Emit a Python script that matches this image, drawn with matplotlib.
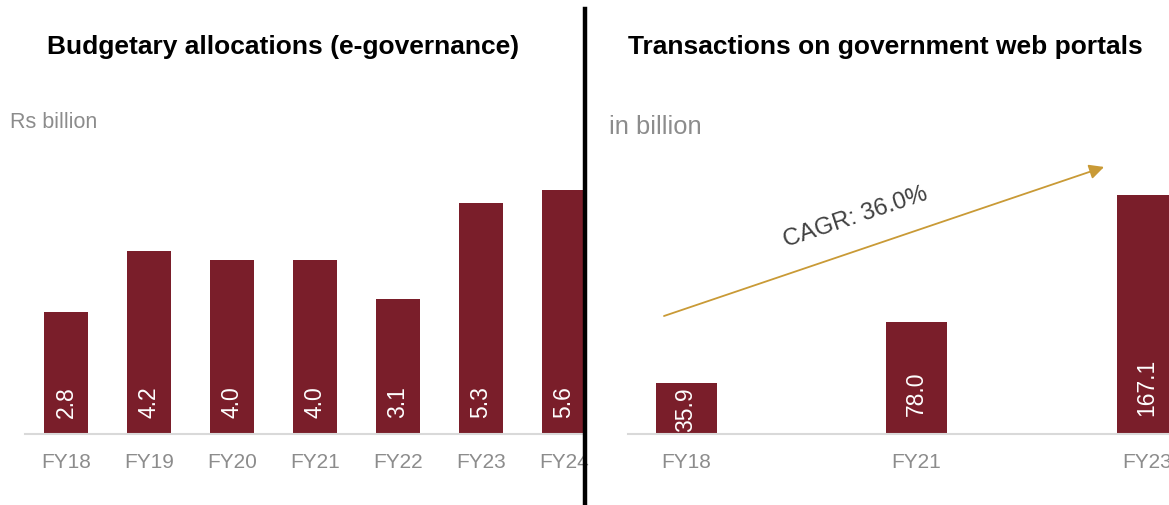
import matplotlib
matplotlib.use("Agg")
import matplotlib.pyplot as plt
from matplotlib.lines import Line2D

# data
budget_years = ["FY18", "FY19", "FY20", "FY21", "FY22", "FY23", "FY24"]
budget_values = [2.8, 4.2, 4.0, 4.0, 3.1, 5.3, 5.6]

txn_years = ["FY18", "FY21", "FY23"]
txn_values = [35.9, 78.0, 167.1]

cagr_label = "CAGR: 36.0%"

# style
BAR = "#7A1E2A"
GREY = "#8C8C8C"
AXLINE = "#D9D9D9"
GOLD = "#C99A36"
plt.rcParams["font.family"] = ["Liberation Sans", "DejaVu Sans"]

W, H = 1169, 506
fig = plt.figure(figsize=(W / 100, H / 100), dpi=100, facecolor="white")


def px_axes(x0, x1, ybase, ytop):
    return fig.add_axes([x0 / W, (H - ybase) / H, (x1 - x0) / W, (ybase - ytop) / H])


def style(ax, labels):
    for s in ["top", "right", "left"]:
        ax.spines[s].set_visible(False)
    ax.spines["bottom"].set_color(AXLINE)
    ax.spines["bottom"].set_linewidth(1.5)
    ax.set_yticks([])
    ax.set_xticks(range(len(labels)))
    ax.set_xticklabels(labels, color=GREY, fontsize=15)
    ax.tick_params(axis="x", length=0, pad=13)


def value_labels(ax, vals, ymax, offset):
    for i, v in enumerate(vals):
        if v / ymax < 0.25:
            ax.text(i, v / 2, "%.1f" % v, rotation=90, ha="center", va="center",
                    color="white", fontsize=16.5, clip_on=True)
        else:
            ax.text(i, offset, "%.1f" % v, rotation=90, ha="center", va="bottom",
                    color="white", fontsize=16.5, clip_on=True)


# left panel
ax1 = px_axes(25, 583, 435, 150)
ax1.bar(range(len(budget_values)), budget_values, width=0.52, color=BAR)
ax1.set_xlim(-0.494, 6.23)
ax1.set_ylim(0, 285 / 43.6)
style(ax1, budget_years)
value_labels(ax1, budget_values, 285 / 43.6, 17 / 43.6)

# right panel
ax2 = px_axes(628, 1169, 435, 150)
ax2.bar(range(len(txn_values)), txn_values, width=0.265, color=BAR)
ax2.set_xlim(-0.252, 2.095)
ax2.set_ylim(0, 285 / 1.43)
style(ax2, txn_years)
value_labels(ax2, txn_values, 285 / 1.43, 19 / 1.43)

ax2.annotate("", xy=(0.88, 0.937), xytext=(0.0665, 0.414),
             xycoords="axes fraction", textcoords="axes fraction",
             arrowprops=dict(arrowstyle="-|>", color=GOLD, lw=1.3,
                             mutation_scale=22, shrinkA=0, shrinkB=0),
             annotation_clip=False)
ax2.text(0.42, 0.765, cagr_label, transform=ax2.transAxes, rotation=18.5,
         rotation_mode="anchor", ha="center", va="center",
         color="#404040", fontsize=17.3)

# titles and units
fig.text(283 / W, 1 - 47 / H, "Budgetary allocations (e-governance)",
         ha="center", va="center", fontsize=19, fontweight="bold")
fig.text(885 / W, 1 - 47 / H, "Transactions on government web portals",
         ha="center", va="center", fontsize=19, fontweight="bold")
fig.text(10 / W, 1 - 123 / H, "Rs billion", ha="left", va="center",
         color=GREY, fontsize=15.5)
fig.text(609 / W, 1 - 127 / H, "in billion", ha="left", va="center",
         color=GREY, fontsize=18.4)

# divider
fig.add_artist(Line2D([585 / W, 585 / W], [0, 1 - 10 / H], transform=fig.transFigure,
                      color="black", lw=3.2, zorder=20))

fig.savefig("out.png", dpi=100, facecolor="white")
